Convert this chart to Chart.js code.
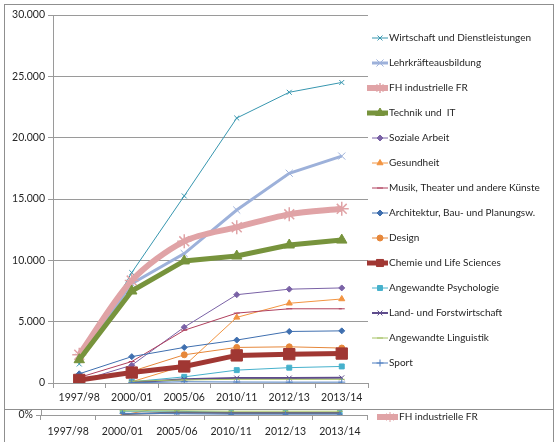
<!DOCTYPE html>
<html>
<head>
<meta charset="utf-8">
<script src="https://cdn.jsdelivr.net/npm/chart.js@4.4.0/dist/chart.umd.min.js"></script>
<style>
html, body { margin: 0; padding: 0; background: #fff; width: 556px; height: 442px; overflow: hidden; }
.frame { position: absolute; border: 1px solid #8f8f8f; box-sizing: border-box; }
#f1 { left: 4px; top: 4px; width: 550px; height: 406px; }
#f2 { left: 4px; top: 409px; width: 550px; height: 60px; }
#c1 { position: absolute; left: 0; top: 0; }
#clip { position: absolute; left: 0; top: 410px; width: 556px; height: 32px; overflow: hidden; }
#c2 { position: absolute; left: 0; top: -88px; }
</style>
</head>
<body>
<div class="frame" id="f1"></div>
<div class="frame" id="f2"></div>
<canvas id="c1" width="556" height="409"></canvas>
<div id="clip"><canvas id="c2" width="556" height="120"></canvas></div>

<script>
// categories + values
const categories = ['1997/98', '2000/01', '2005/06', '2010/11', '2012/13', '2013/14'];
const yTicks = [0, 5000, 10000, 15000, 20000, 25000, 30000];

const wirtschaft   = [1550, 9000, 15250, 21600, 23700, 24500];
const lehrkraefte  = [2100, 8100, 10550, 14100, 17100, 18500];
const fhIndustrie  = [2300, 8350, 11550, 12700, 13750, 14200];
const technikIT    = [1900, 7500, 9950, 10350, 11250, 11650];
const sozialeArbeit = [150, 1450, 4550, 7200, 7650, 7750];
const gesundheit   = [null, 100, 1400, 5350, 6500, 6850];
const musik        = [450, 1750, 4300, 5700, 6050, 6050];
const architektur  = [750, 2150, 2900, 3500, 4200, 4250];
const design       = [150, 950, 2300, 2900, 2950, 2850];
const chemie       = [250, 850, 1350, 2250, 2350, 2400];
const psychologie  = [null, 100, 500, 1050, 1250, 1350];
const landForst    = [null, 50, 300, 400, 400, 420];
const linguistik   = [null, 150, 250, 300, 300, 300];
const sport        = [null, 20, 100, 80, 70, 70];

// second (cut off) chart: shares of the FH total
const shareFH          = [1, 1, 1, 1, 1, 1];
const sharePsychologie = [null, 0.045, 0.045, 0.03, 0.03, 0.03];
const shareGesundheit  = [null, 0, 0.12, 0.15, 0.15, 0.15];
const shareLandForst   = [null, 0.01, 0.03, 0.025, 0.025, 0.025];
const shareLinguistik  = [null, 0.05, 0.05, 0.045, 0.045, 0.045];
const shareSport       = [null, 0.02, 0.015, 0.01, 0.01, 0.01];

const FONT = 'Lato, "Liberation Sans", sans-serif';
const TEXT = '#262626';
const GRID = '#9a9a9a';

function series(label, data, color, width, style, radius, idx, extra) {
    return Object.assign({
        label: label,
        data: data,
        borderColor: color,
        backgroundColor: color,
        borderWidth: width,
        pointStyle: style,
        pointRadius: radius,
        pointHoverRadius: radius,
        pointBorderColor: color,
        pointBackgroundColor: color,
        pointBorderWidth: 1,
        tension: 0,
        spanGaps: false,
        order: -idx   // later series on top, like Excel
    }, extra || {});
}

function mainSets() {
    return [
        series('Wirtschaft und Dienstleistungen', wirtschaft, '#3796AF', 1, 'crossRot', 3.5, 0),
        series('Lehrkräfteausbildung', lehrkraefte, '#9DB1DA', 3, 'crossRot', 5, 1),
        series('FH industrielle FR', fhIndustrie, '#E0A3A6', 6, 'star', 7, 2, { tension: 0.3, pointBorderWidth: 1.5 }),
        series('Technik und  IT', technikIT, '#77933C', 5, 'triangle', 6, 3),
        series('Soziale Arbeit', sozialeArbeit, '#7A62A6', 1, 'rectRot', 3, 4),
        series('Gesundheit', gesundheit, '#F29441', 1, 'triangle', 3.5, 5),
        series('Musik, Theater und andere Künste', musik, '#B0405E', 1, 'line', 3, 6),
        series('Architektur, Bau- und Planungsw.', architektur, '#3F6FAF', 1, 'rectRot', 3, 7),
        series('Design', design, '#E6873A', 1, 'circle', 3, 8),
        series('Chemie und Life Sciences', chemie, '#A03733', 5, 'rect', 8, 9),
        series('Angewandte Psychologie', psychologie, '#46B1CC', 1, 'rect', 3.5, 10),
        series('Land- und Forstwirtschaft', landForst, '#5E4C8C', 2, 'crossRot', 3.5, 11),
        series('Angewandte Linguistik', linguistik, '#A5C264', 1, 'line', 3, 12),
        series('Sport', sport, '#4F7FC0', 1, 'cross', 3.5, 13)
    ];
}

// Excel-like legend: short line with marker, then text
const sideLegend = {
    id: 'sideLegend',
    afterDraw(chart, args, opts) {
        const ctx = chart.ctx;
        ctx.save();
        ctx.font = '10px ' + FONT;
        ctx.textBaseline = 'middle';
        ctx.textAlign = 'left';
        opts.indices.forEach((dsIndex, n) => {
            const ds = chart.data.datasets[dsIndex];
            const y = opts.top + n * opts.step;
            const x0 = ds.borderWidth >= 5 ? opts.x - 5 : opts.x;
            const x1 = opts.x + 16;
            ctx.strokeStyle = ds.borderColor;
            ctx.lineWidth = ds.borderWidth;
            ctx.beginPath();
            ctx.moveTo(x0, y);
            ctx.lineTo(x1, y);
            ctx.stroke();
            ctx.fillStyle = ds.pointBackgroundColor;
            ctx.strokeStyle = ds.pointBorderColor;
            ctx.lineWidth = ds.pointBorderWidth;
            Chart.helpers.drawPoint(ctx, {
                pointStyle: ds.pointStyle,
                radius: Math.min(ds.pointRadius, 5),
                rotation: 0,
                borderWidth: ds.pointBorderWidth
            }, opts.x + 8, y);
            ctx.fillStyle = TEXT;
            ctx.fillText(ds.label, x1 + 1, y);
        });
        ctx.restore();
    }
};

function fmtThousands(v) {
    return String(v).replace(/\B(?=(\d{3})+(?!\d))/g, '.');
}

new Chart(document.getElementById('c1'), {
    type: 'line',
    data: { labels: categories, datasets: mainSets() },
    plugins: [sideLegend],
    options: {
        responsive: false,
        animation: false,
        layout: { padding: { left: 0, right: 188, top: 15, bottom: 0 } },
        plugins: {
            legend: { display: false },
            tooltip: { enabled: false },
            sideLegend: { x: 372, top: 38, step: 25, indices: [0,1,2,3,4,5,6,7,8,9,10,11,12,13] }
        },
        scales: {
            x: {
                offset: true,
                grid: { offset: true, drawOnChartArea: false, drawTicks: true, tickLength: 5, color: GRID },
                border: { display: true, color: GRID },
                ticks: { color: TEXT, font: { family: FONT, size: 10.5 }, padding: 3, maxRotation: 0 },
                afterFit(scale) { scale.height = 26; }
            },
            y: {
                min: 0,
                max: 30000,
                afterBuildTicks(scale) { scale.ticks = yTicks.map(v => ({ value: v })); },
                grid: { color: GRID, tickLength: 5 },
                border: { display: true, color: GRID },
                ticks: { color: TEXT, font: { family: FONT, size: 10.5 }, padding: 3, callback: v => fmtThousands(v) },
                afterFit(scale) { scale.width = 53; }
            }
        }
    }
});

// lower chart, only its bottom strip is visible
new Chart(document.getElementById('c2'), {
    type: 'line',
    data: {
        labels: categories,
        datasets: [
            series('FH industrielle FR', shareFH, '#E0A3A6', 6, 'star', 7, 0),
            series('Gesundheit', shareGesundheit, '#F29441', 1, 'triangle', 3, 1),
            series('Angewandte Psychologie', sharePsychologie, '#46B1CC', 1, 'rect', 3, 2),
            series('Land- und Forstwirtschaft', shareLandForst, '#6E6E7E', 2, 'crossRot', 3, 3),
            series('Angewandte Linguistik', shareLinguistik, '#A5C264', 1, 'line', 3, 4),
            series('Sport', shareSport, '#4F7FC0', 1, 'cross', 3, 5)
        ]
    },
    plugins: [sideLegend],
    options: {
        responsive: false,
        animation: false,
        layout: { padding: { left: 0, right: 189, top: 5, bottom: 0 } },
        plugins: {
            legend: { display: false },
            tooltip: { enabled: false },
            sideLegend: { x: 382, top: 95, step: 25, indices: [0] }
        },
        scales: {
            x: {
                offset: true,
                grid: { offset: true, drawOnChartArea: false, drawTicks: true, tickLength: 5, color: GRID },
                border: { display: true, color: GRID },
                ticks: { color: TEXT, font: { family: FONT, size: 10.5 }, padding: 5, maxRotation: 0 },
                afterFit(scale) { scale.height = 27; }
            },
            y: {
                min: 0,
                max: 1,
                ticks: { stepSize: 0.2, color: TEXT, font: { family: FONT, size: 10.5 }, padding: 3,
                         callback: v => Math.round(v * 100) + '%' },
                grid: { color: GRID, tickLength: 5, drawOnChartArea: false },
                border: { display: true, color: GRID },
                afterFit(scale) { scale.width = 41; }
            }
        }
    }
});
</script>
</body>
</html>
